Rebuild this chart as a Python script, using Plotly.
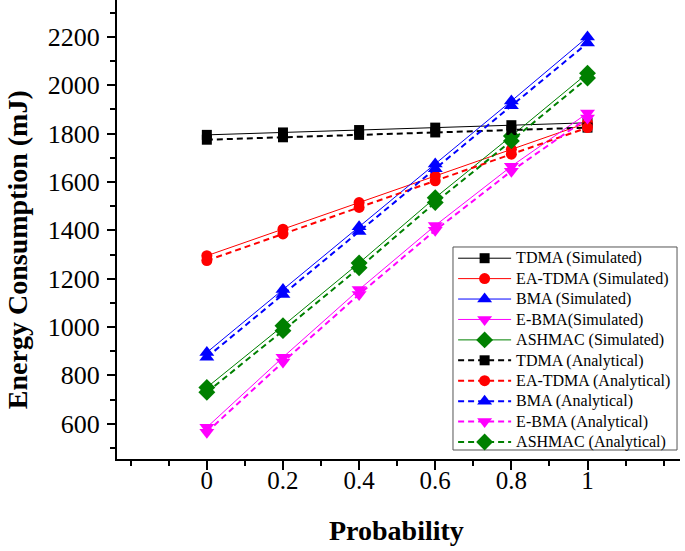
import plotly.graph_objects as go

prob = [0, 0.2, 0.4, 0.6, 0.8, 1.0]

tdma_sim = [1795, 1805, 1815, 1825, 1835, 1845]
eatdma_sim = [1295, 1405, 1515, 1625, 1735, 1845]
bma_sim = [895, 1155, 1415, 1675, 1935, 2200]
ebma_sim = [585, 875, 1155, 1420, 1665, 1885]
ashmac_sim = [750, 1005, 1265, 1535, 1790, 2050]

tdma_ana = [1775, 1785, 1795, 1805, 1815, 1825]
eatdma_ana = [1275, 1385, 1495, 1605, 1715, 1825]
bma_ana = [875, 1135, 1395, 1655, 1915, 2175]
ebma_ana = [565, 855, 1135, 1400, 1645, 1865]
ashmac_ana = [730, 985, 1245, 1515, 1770, 2030]

names = ["TDMA", "EA-TDMA", "BMA", "E-BMA", "ASHMAC"]
colors = ["#000000", "#FF0000", "#0000FF", "#FF00FF", "#008000"]
symbols = ["square", "circle", "triangle-up", "triangle-down", "diamond"]
sizes = [10, 11, 13, 13, 13]
sim = [tdma_sim, eatdma_sim, bma_sim, ebma_sim, ashmac_sim]
ana = [tdma_ana, eatdma_ana, bma_ana, ebma_ana, ashmac_ana]
sim_labels = ["TDMA (Simulated)", "EA-TDMA (Simulated)", "BMA (Simulated)",
              "E-BMA(Simulated)", "ASHMAC (Simulated)"]
ana_labels = ["TDMA (Analytical)", "EA-TDMA (Analytical)", "BMA (Analytical)",
              "E-BMA (Analytical)", "ASHMAC (Analytical)"]

def big(t):
    return '<span style="font-size:16px">' + t + '</span>'

fig = go.Figure()
for i in range(5):
    fig.add_trace(go.Scatter(
        x=prob, y=sim[i], name=big(sim_labels[i]), mode="lines+markers",
        line=dict(color=colors[i], width=1),
        marker=dict(symbol=symbols[i], size=sizes[i], color=colors[i]),
    ))
for i in range(5):
    fig.add_trace(go.Scatter(
        x=prob, y=ana[i], name=big(ana_labels[i]), mode="lines+markers",
        line=dict(color=colors[i], width=2, dash="6px,4px"),
        marker=dict(symbol=symbols[i], size=sizes[i], color=colors[i]),
    ))

serif = "Liberation Serif, Times New Roman, serif"
fig.update_layout(
    width=685, height=551,
    margin=dict(l=117, r=5, t=0, b=92),
    paper_bgcolor="white", plot_bgcolor="white",
    font=dict(family=serif, color="black"),
    showlegend=True,
    legend=dict(
        x=0.597, y=0.4706, xanchor="left", yanchor="top",
        bgcolor="rgba(0,0,0,0)", borderwidth=0,
        font=dict(family=serif, size=13.4, color="black"),
        itemwidth=53, tracegroupgap=0,
    ),
    shapes=[
        dict(type="rect", xref="paper", yref="paper",
             x0=0.5968, x1=0.9947, y0=0.0196, y1=0.4619,
             fillcolor="white", line=dict(color="#555555", width=1), layer="above"),
    ],
    xaxis=dict(
        range=[-0.236, 1.243], tickmode="array",
        tickvals=[0, 0.2, 0.4, 0.6, 0.8, 1.0],
        ticktext=["0", "0.2", "0.4", "0.6", "0.8", "1"],
        showgrid=False, zeroline=False, automargin=False,
        showline=True, linecolor="black", linewidth=2,
        ticks="outside", ticklen=9, tickwidth=1.5, tickcolor="black",
        minor=dict(ticks="outside", ticklen=5, tickwidth=1.5, tickcolor="black", dtick=0.1, showgrid=False),
        tickfont=dict(family=serif, size=25, color="black"),
        ticklabelstandoff=-11,
    ),
    yaxis=dict(
        range=[454, 2353], tickmode="array",
        tickvals=[600, 800, 1000, 1200, 1400, 1600, 1800, 2000, 2200],
        showgrid=False, zeroline=False, automargin=False,
        showline=True, linecolor="black", linewidth=2,
        ticks="outside", ticklen=8, tickwidth=1.5, tickcolor="black",
        minor=dict(ticks="outside", ticklen=5, tickwidth=1.5, tickcolor="black",
                   tickvals=[500, 700, 900, 1100, 1300, 1500, 1700, 1900, 2100, 2300], showgrid=False),
        tickfont=dict(family=serif, size=26, color="black"),
        ticklabelstandoff=2,
    ),
    annotations=[
        dict(text="<b>Energy Consumption (mJ)</b>", xref="paper", yref="paper",
             x=-0.1776, y=0.455, xanchor="center", yanchor="middle", textangle=-90,
             showarrow=False, font=dict(family=serif, size=28, color="black")),
        dict(text="<b>Probability</b>", xref="paper", yref="paper",
             x=0.497, y=-0.155, xanchor="center", yanchor="middle",
             showarrow=False, font=dict(family=serif, size=28, color="black")),
    ],
)

fig.write_html("out.html", config={"displayModeBar": False},
               post_script="document.body.style.margin='0px';")
